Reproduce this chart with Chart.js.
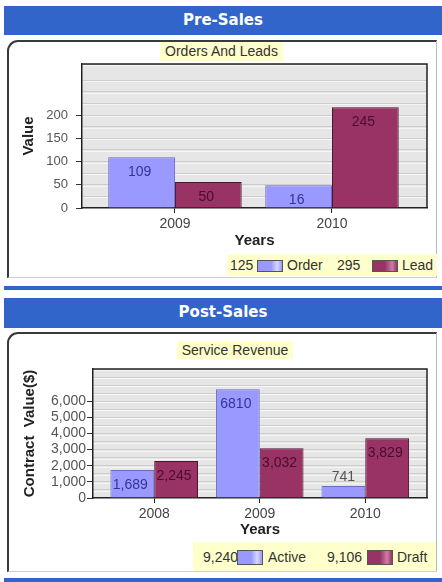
<!DOCTYPE html>
<html>
<head>
<meta charset="utf-8">
<script src="https://cdn.jsdelivr.net/npm/chart.js@4"></script>
<style>
  html, body { margin:0; padding:0; background:#fff; }
  body { width:442px; height:582px; position:relative; overflow:hidden; font-family:"Liberation Sans", Arial, sans-serif; }
  .hdr { position:absolute; left:4px; width:438px; background:#3265c9; color:#fff; font:bold 15px "DejaVu Sans", Verdana, sans-serif; text-align:center; box-sizing:border-box; }
  .bar { position:absolute; left:4px; width:438px; background:#3265c9; }
  .panel { position:absolute; left:7px; width:430px; box-sizing:border-box; border-left:2px solid #3a3a3a; border-top:2px solid #3a3a3a; border-right:1px solid #b8b8b8; border-bottom:1px solid #cfcfcf; border-top-left-radius:11px; }
  .ttl { position:absolute; background:#ffffcc; color:#333; font-size:14px; text-align:center; }
  canvas { position:absolute; }
  .legend { position:absolute; background:#ffffcc; color:#333; font-size:14px; }
  .legend span { position:absolute; white-space:nowrap; }
  .sw { position:absolute; box-sizing:border-box; border:1px solid #555; }
</style>
</head>
<body>
<div class="hdr" style="top:6px;height:29px;line-height:28px;">Pre-Sales</div>
<div class="panel" style="top:40px;height:238px;"></div>
<div class="ttl" style="left:160px;top:42px;width:123px;height:19px;line-height:19px;">Orders And Leads</div>
<canvas id="c1" width="430" height="210" style="left:7px;top:40px;width:430px;height:210px;"></canvas>
<div class="legend" id="lg1" style="left:227px;top:254px;width:210px;height:22px;"></div>

<div class="bar" style="top:286px;height:4px;"></div>
<div class="hdr" style="top:298px;height:30px;line-height:29px;">Post-Sales</div>
<div class="panel" style="top:332px;height:240px;"></div>
<div class="ttl" style="left:177px;top:341px;width:116px;height:18px;line-height:18px;">Service Revenue</div>
<canvas id="c2" width="430" height="207" style="left:7px;top:332px;width:430px;height:207px;"></canvas>
<div class="legend" id="lg2" style="left:193px;top:542px;width:243px;height:29px;"></div>
<div class="bar" style="top:578px;height:4px;"></div>

<script>
// ---------- Pre-Sales data ----------
const preCategories = ['2009', '2010'];
const orderValues = [109, 49];     // bar heights as drawn
const leadValues  = [56, 217];
const orderLabels = ['109', '16']; // printed value labels
const leadLabels  = ['50', '245'];
const preYTicks   = [0, 50, 100, 150, 200];

// ---------- Post-Sales data ----------
const postCategories = ['2008', '2009', '2010'];
const activeValues = [1730, 6740, 740];
const draftValues  = [2290, 3090, 3710];
const activeLabels = ['1,689', '6810', '741'];
const draftLabels  = ['2,245', '3,032', '3,829'];
const postYTicks   = [0, 1000, 2000, 3000, 4000, 5000, 6000];

const FONT = '"Liberation Sans", Arial, sans-serif';
Chart.defaults.font.family = FONT;

const toNum = s => parseInt(String(s).replace(/,/g, ''), 10);
const sum = arr => arr.reduce((a, b) => a + toNum(b), 0);

const plotDeco = {
  id: 'plotDeco',
  afterLayout(chart, args, opts) {
    const x = chart.scales.x;
    if (opts && opts.xStart !== undefined) {
      x._startValue = opts.xStart;
      x._valueRange = opts.xRange;
    }
  },
  beforeDraw(chart) {
    const { ctx, chartArea: a } = chart;
    ctx.save();
    ctx.fillStyle = '#e6e6e6';
    ctx.fillRect(a.left, a.top, a.right - a.left, a.bottom - a.top);
    ctx.strokeStyle = '#f6f6f6';
    ctx.lineWidth = 1;
    chart.scales.y.ticks.forEach(t => {
      const y = Math.round(chart.scales.y.getPixelForValue(t.value)) + 1.5;
      if (y < a.bottom - 1 && y > a.top + 1) {
        ctx.beginPath(); ctx.moveTo(a.left, y); ctx.lineTo(a.right, y); ctx.stroke();
      }
    });
    ctx.restore();
  },
  afterDraw(chart) {
    const { ctx, chartArea: a } = chart;
    ctx.save();
    ctx.strokeStyle = '#222';
    ctx.lineWidth = 1.5;
    ctx.beginPath();
    ctx.moveTo(a.left, a.top); ctx.lineTo(a.right, a.top); ctx.lineTo(a.right, a.bottom);
    ctx.stroke();
    ctx.restore();
  }
};

const valueLabels = {
  id: 'valueLabels',
  afterDatasetsDraw(chart) {
    const ctx = chart.ctx;
    chart.data.datasets.forEach((ds, i) => {
      const meta = chart.getDatasetMeta(i);
      meta.data.forEach((bar, j) => {
        const text = ds.valueLabels[j];
        const h = bar.base - bar.y;
        ctx.save();
        ctx.font = '14px ' + FONT;
        ctx.textAlign = 'center';
        ctx.textBaseline = 'middle';
        if (h > 18) {
          ctx.fillStyle = ds.labelColor;
          ctx.fillText(text, bar.x - 2, bar.y + 15);
        } else {
          ctx.fillStyle = '#555';
          ctx.fillText(text, bar.x, bar.y - 9);
        }
        ctx.restore();
      });
    });
  }
};

function makeChart(id, cfg) {
  return new Chart(document.getElementById(id), {
    type: 'bar',
    data: {
      labels: cfg.categories,
      datasets: [
        { label: cfg.names[0], data: cfg.values[0], valueLabels: cfg.labels[0], labelColor: '#33339a',
          backgroundColor: '#9999ff', borderColor: '#6b6bc4', borderWidth: 1,
          categoryPercentage: cfg.catPct, barPercentage: 1 },
        { label: cfg.names[1], data: cfg.values[1], valueLabels: cfg.labels[1], labelColor: '#4a0c2a',
          backgroundColor: '#993366', borderColor: '#4d1530', borderWidth: 1,
          categoryPercentage: cfg.catPct, barPercentage: 1 }
      ]
    },
    options: {
      responsive: false,
      animation: false,
      events: [],
      layout: { padding: { top: cfg.padTop, right: 10, left: 0, bottom: 0 } },
      plugins: {
        legend: { display: false }, title: { display: false }, tooltip: { enabled: false },
        plotDeco: { xStart: cfg.xStart, xRange: cfg.xRange }
      },
      scales: {
        x: {
          offset: true,
          grid: { offset: false, drawOnChartArea: false, drawTicks: true, tickLength: 5, tickColor: '#222' },
          border: { color: '#222', width: 1.5 },
          ticks: { font: { size: 14 }, color: '#444', padding: 3 },
          title: { display: true, text: 'Years', font: { size: 15, weight: 'bold' }, color: '#222', padding: 0 },
          afterFit: s => { s.height = cfg.xHeight; }
        },
        y: {
          min: 0, max: cfg.yMax,
          ticks: {
            stepSize: cfg.step, autoSkip: false, font: { size: cfg.yFont }, color: '#555', padding: cfg.yPad,
            callback: v => cfg.yTicks.includes(v) ? v.toLocaleString('en-US') : ''
          },
          grid: {
            color: c => (c.tick && c.tick.value === 0) ? 'rgba(0,0,0,0)' : '#cdcdcd',
            tickColor: c => (c.tick && cfg.yTicks.includes(c.tick.value)) ? '#333' : 'rgba(0,0,0,0)',
            tickLength: 6, drawTicks: true
          },
          border: { color: '#222', width: 1.5 },
          title: { display: true, text: cfg.yTitle, font: { size: 15, weight: 'bold' }, color: '#222', padding: { top: cfg.yTitlePad, bottom: 0 } },
          afterFit: s => { s.width = cfg.yWidth; }
        }
      }
    },
    plugins: [plotDeco, valueLabels]
  });
}

makeChart('c1', {
  categories: preCategories, names: ['Order', 'Lead'],
  values: [orderValues, leadValues], labels: [orderLabels, leadLabels],
  catPct: 0.85, xStart: -0.592, xRange: 2.197,
  padTop: 24, xHeight: 42, yWidth: 75, yMax: 310, step: 25,
  yTicks: preYTicks, yFont: 13, yPad: 8, yTitle: 'Value', yTitlePad: 13
});

makeChart('c2', {
  categories: postCategories, names: ['Active', 'Draft'],
  values: [activeValues, draftValues], labels: [activeLabels, draftLabels],
  catPct: 0.83, xStart: -0.58, xRange: 3.165,
  padTop: 37, xHeight: 41, yWidth: 86, yMax: 8000, step: 500,
  yTicks: postYTicks, yFont: 14, yPad: 1, yTitle: 'Contract  Value($)', yTitlePad: 14
});

// ---------- legends ----------
function buildLegend(id, items, swH) {
  const el = document.getElementById(id);
  items.forEach(it => {
    const n = document.createElement('span');
    n.textContent = it.total;
    n.style.left = it.nx + 'px'; n.style.top = it.ty + 'px';
    el.appendChild(n);
    const sw = document.createElement('div');
    sw.className = 'sw';
    sw.style.left = it.sx + 'px'; sw.style.top = it.sy + 'px';
    sw.style.width = '26px'; sw.style.height = swH + 'px';
    sw.style.background = it.grad;
    el.appendChild(sw);
    const t = document.createElement('span');
    t.textContent = it.name;
    t.style.left = it.lx + 'px'; t.style.top = it.ty + 'px';
    el.appendChild(t);
  });
}
const gradA = 'linear-gradient(to right, #9999ff 0%, #9999ff 55%, #d8d8ff 80%, #9999ff 100%)';
const gradB = 'linear-gradient(to right, #993366 0%, #993366 50%, #d17ba3 80%, #993366 100%)';

buildLegend('lg1', [
  { total: sum(orderLabels).toLocaleString('en-US'), name: 'Order', nx: 3, sx: 30, lx: 60, ty: 3, sy: 6, grad: gradA },
  { total: sum(leadLabels).toLocaleString('en-US'),  name: 'Lead',  nx: 110, sx: 145, lx: 175, ty: 3, sy: 6, grad: gradB }
], 12);

buildLegend('lg2', [
  { total: sum(activeLabels).toLocaleString('en-US'), name: 'Active', nx: 10, sx: 44, lx: 75, ty: 7, sy: 8, grad: gradA },
  { total: sum(draftLabels).toLocaleString('en-US'),  name: 'Draft',  nx: 134, sx: 174, lx: 204, ty: 7, sy: 8, grad: gradB }
], 15);
</script>
</body>
</html>
